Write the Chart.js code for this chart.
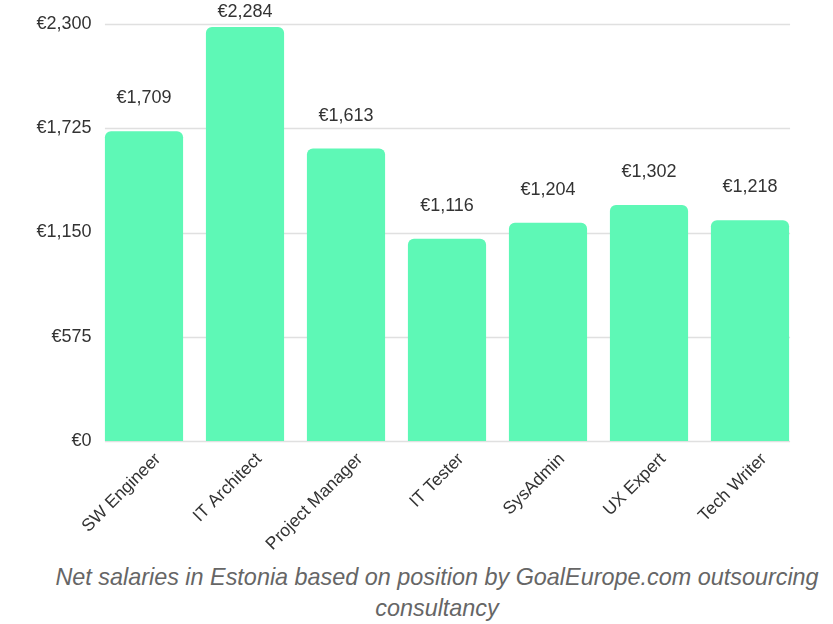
<!DOCTYPE html>
<html>
<head>
<meta charset="utf-8">
<script src="https://cdn.jsdelivr.net/npm/chart.js@4"></script>
<style>
    html, body { margin: 0; padding: 0; background: #fff; }
    #wrap { position: relative; width: 833px; height: 624px; overflow: hidden; }
    #chart-box { position: absolute; left: 0; top: 0; width: 833px; height: 560px; }
    #caption {
        position: absolute; left: 0; top: 562px; width: 874px;
        text-align: center; font-family: "Liberation Sans", Arial, sans-serif;
        font-style: italic; font-size: 23.4px; line-height: 31px; color: #666;
    }
</style>
</head>
<body>
<div id="wrap">
    <div id="chart-box"><canvas id="salaryChart"></canvas></div>
    <div id="caption">Net salaries in Estonia based on position by GoalEurope.com outsourcing<br>consultancy</div>
</div>
<script>
const positions = ['SW Engineer', 'IT Architect', 'Project Manager', 'IT Tester', 'SysAdmin', 'UX Expert', 'Tech Writer'];
const salaries = [1709, 2284, 1613, 1116, 1204, 1302, 1218];
const yTicks = [0, 575, 1150, 1725, 2300];

const euro = v => '€' + v.toLocaleString('en-US');

// gridlines only span from the first bar's left edge to the last bar's right edge
const barGrid = {
    id: 'barGrid',
    beforeDatasetsDraw(chart) {
        const ctx = chart.ctx;
        const bars = chart.getDatasetMeta(0).data;
        const x0 = bars[0].x - bars[0].width / 2;
        const x1 = bars[bars.length - 1].x + bars[bars.length - 1].width / 2 + 1;
        ctx.save();
        ctx.strokeStyle = '#e0e0e0';
        ctx.lineWidth = 1.5;
        yTicks.forEach(v => {
            const y = Math.round(chart.scales.y.getPixelForValue(v)) + 0.5;
            ctx.beginPath();
            ctx.moveTo(x0, y);
            ctx.lineTo(x1, y);
            ctx.stroke();
        });
        ctx.restore();
    }
};

// value labels above the bars
const barLabels = {
    id: 'barLabels',
    afterDatasetsDraw(chart) {
        const ctx = chart.ctx;
        const meta = chart.getDatasetMeta(0);
        ctx.save();
        ctx.font = '18px "Liberation Sans", Arial, sans-serif';
        ctx.fillStyle = '#333';
        ctx.textAlign = 'center';
        ctx.textBaseline = 'middle';
        meta.data.forEach((bar, i) => {
            const y = Math.max(12, bar.y - 33);
            ctx.fillText(euro(salaries[i]), bar.x, y);
        });
        ctx.restore();
    }
};

document.addEventListener('DOMContentLoaded', () => {
    const ctx = document.getElementById('salaryChart').getContext('2d');
    new Chart(ctx, {
        type: 'bar',
        data: {
            labels: positions,
            datasets: [{
                data: salaries,
                backgroundColor: '#5ef8b6',
                borderRadius: { topLeft: 6, topRight: 6 },
                borderSkipped: 'bottom',
                barPercentage: 0.86,
                categoryPercentage: 0.9
            }]
        },
        options: {
            responsive: true,
            maintainAspectRatio: false,
            animation: false,
            layout: { padding: { top: 24, right: 32.5, left: 0, bottom: 0 } },
            plugins: { legend: { display: false }, tooltip: { enabled: false } },
            scales: {
                y: {
                    min: 0,
                    max: 2300,
                    afterBuildTicks: axis => { axis.ticks = yTicks.map(v => ({ value: v })); },
                    afterFit: axis => { axis.width = 93.5; },
                    grid: { display: false, drawTicks: false },
                    border: { display: false },
                    ticks: {
                        padding: 2,
                        color: '#333',
                        font: { family: '"Liberation Sans", Arial, sans-serif', size: 18 },
                        callback: v => euro(v)
                    }
                },
                x: {
                    afterFit: axis => { axis.height = 119; },
                    grid: { display: false, drawTicks: false },
                    border: { display: false },
                    ticks: {
                        minRotation: 45,
                        maxRotation: 45,
                        padding: 8,
                        labelOffset: 14,
                        color: '#333',
                        font: { family: '"Liberation Sans", Arial, sans-serif', size: 17.5 }
                    }
                }
            }
        },
        plugins: [barGrid, barLabels]
    });
});
</script>
</body>
</html>
